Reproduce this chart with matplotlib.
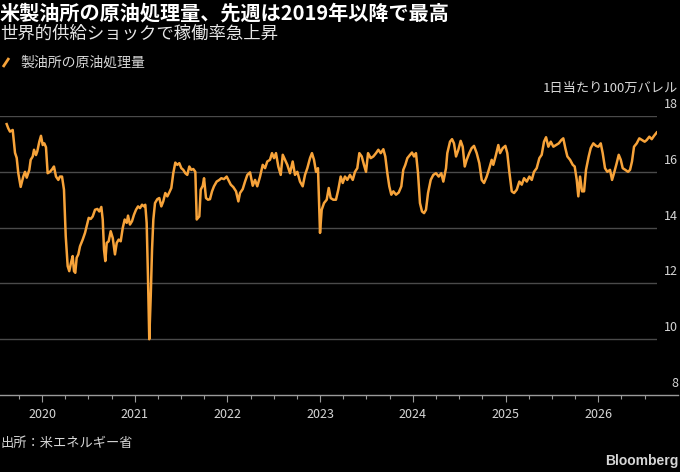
import numpy as np
import matplotlib
matplotlib.use('Agg')
import matplotlib.pyplot as plt
from matplotlib.ticker import MultipleLocator
from matplotlib.lines import Line2D

plt.rcParams['font.family'] = ['Noto Sans CJK JP', 'DejaVu Sans']

# weekly refinery crude runs, million barrels per day
t = [2019.619, 2019.636, 2019.655, 2019.684, 2019.709, 2019.727, 2019.744, 2019.770, 2019.798, 2019.817,
     2019.835, 2019.863, 2019.878, 2019.900, 2019.914, 2019.935, 2019.949, 2019.971, 2019.989, 2020.008,
     2020.025, 2020.043, 2020.061, 2020.086, 2020.111, 2020.129, 2020.151, 2020.176, 2020.194, 2020.216,
     2020.237, 2020.256, 2020.277, 2020.294, 2020.313, 2020.331, 2020.345, 2020.359, 2020.374, 2020.392,
     2020.410, 2020.439, 2020.464, 2020.482, 2020.504, 2020.525, 2020.547, 2020.572, 2020.597, 2020.618,
     2020.640, 2020.655, 2020.669, 2020.683, 2020.698, 2020.719, 2020.741, 2020.763, 2020.787, 2020.806,
     2020.827, 2020.849, 2020.871, 2020.892, 2020.914, 2020.928, 2020.949, 2020.971, 2020.992, 2021.014,
     2021.036, 2021.057, 2021.079, 2021.100, 2021.114, 2021.129, 2021.143, 2021.157, 2021.173, 2021.187,
     2021.201, 2021.219, 2021.244, 2021.265, 2021.287, 2021.308, 2021.330, 2021.352, 2021.373, 2021.395,
     2021.416, 2021.438, 2021.459, 2021.481, 2021.503, 2021.524, 2021.546, 2021.567, 2021.589, 2021.610,
     2021.632, 2021.654, 2021.669, 2021.683, 2021.697, 2021.712, 2021.734, 2021.748, 2021.769, 2021.791,
     2021.812, 2021.834, 2021.855, 2021.884, 2021.913, 2021.934, 2021.963, 2021.992, 2022.010, 2022.036,
     2022.064, 2022.093, 2022.118, 2022.136, 2022.165, 2022.190, 2022.215, 2022.244, 2022.273, 2022.298,
     2022.322, 2022.352, 2022.381, 2022.406, 2022.430, 2022.459, 2022.481, 2022.503, 2022.524, 2022.549,
     2022.575, 2022.597, 2022.621, 2022.646, 2022.675, 2022.704, 2022.729, 2022.754, 2022.783, 2022.812,
     2022.837, 2022.862, 2022.891, 2022.912, 2022.934, 2022.956, 2022.977, 2022.999, 2023.017, 2023.042,
     2023.071, 2023.093, 2023.114, 2023.142, 2023.171, 2023.196, 2023.222, 2023.244, 2023.268, 2023.293,
     2023.322, 2023.352, 2023.376, 2023.401, 2023.423, 2023.449, 2023.473, 2023.495, 2023.517, 2023.546,
     2023.574, 2023.603, 2023.628, 2023.654, 2023.682, 2023.703, 2023.725, 2023.746, 2023.768, 2023.790,
     2023.819, 2023.848, 2023.876, 2023.897, 2023.919, 2023.941, 2023.970, 2023.991, 2024.013, 2024.034,
     2024.056, 2024.077, 2024.099, 2024.121, 2024.142, 2024.164, 2024.193, 2024.221, 2024.250, 2024.279,
     2024.307, 2024.329, 2024.358, 2024.372, 2024.401, 2024.423, 2024.444, 2024.466, 2024.491, 2024.516,
     2024.538, 2024.560, 2024.581, 2024.609, 2024.635, 2024.660, 2024.689, 2024.717, 2024.743, 2024.768,
     2024.797, 2024.825, 2024.851, 2024.868, 2024.897, 2024.922, 2024.941, 2024.970, 2024.998, 2025.019,
     2025.041, 2025.067, 2025.092, 2025.121, 2025.149, 2025.175, 2025.200, 2025.229, 2025.257, 2025.283,
     2025.307, 2025.336, 2025.365, 2025.390, 2025.415, 2025.437, 2025.462, 2025.488, 2025.516, 2025.545,
     2025.574, 2025.602, 2025.623, 2025.645, 2025.667, 2025.696, 2025.725, 2025.746, 2025.768, 2025.785,
     2025.804, 2025.825, 2025.847, 2025.868, 2025.897, 2025.919, 2025.947, 2025.976, 2026.001, 2026.027,
     2026.048, 2026.073, 2026.098, 2026.127, 2026.149, 2026.170, 2026.199, 2026.221, 2026.243, 2026.264,
     2026.292, 2026.321, 2026.343, 2026.364, 2026.386, 2026.415, 2026.443, 2026.472, 2026.501, 2026.523,
     2026.551, 2026.577, 2026.602, 2026.631]
runs = [17.71, 17.56, 17.44, 17.50, 16.68, 16.50, 15.96, 15.46, 15.83, 16.00,
        15.79, 16.07, 16.43, 16.55, 16.79, 16.60, 16.73, 17.08, 17.29, 16.96,
        17.02, 16.88, 15.95, 16.00, 16.10, 16.19, 15.83, 15.71, 15.83, 15.83,
        15.36, 13.69, 12.62, 12.44, 12.74, 12.98, 12.44, 12.38, 12.92, 13.04,
        13.33, 13.57, 13.81, 14.05, 14.35, 14.31, 14.40, 14.64, 14.67, 14.58,
        14.74, 14.29, 13.21, 12.80, 13.45, 13.51, 13.87, 13.63, 13.04, 13.45,
        13.57, 13.51, 13.99, 14.29, 14.17, 14.43, 14.11, 14.23, 14.46, 14.64,
        14.76, 14.70, 14.82, 14.76, 14.82, 14.17, 12.26, 10.00, 11.55, 13.21,
        14.29, 14.88, 15.02, 15.06, 14.76, 14.94, 15.24, 15.12, 15.26, 15.42,
        15.95, 16.33, 16.25, 16.31, 16.13, 16.07, 15.95, 15.89, 16.19, 16.07,
        16.10, 16.00, 14.29, 14.35, 14.40, 15.36, 15.50, 15.77, 15.06, 15.00,
        15.02, 15.30, 15.48, 15.65, 15.71, 15.77, 15.74, 15.83, 15.71, 15.54,
        15.45, 15.30, 14.94, 15.24, 15.38, 15.65, 15.89, 15.98, 15.50, 15.71,
        15.48, 15.83, 16.25, 16.13, 16.37, 16.43, 16.67, 16.49, 16.67, 16.19,
        15.89, 16.61, 16.43, 16.25, 15.95, 16.37, 15.89, 16.00, 15.65, 15.48,
        15.89, 16.13, 16.49, 16.67, 16.43, 16.00, 16.13, 13.81, 14.64, 14.88,
        15.00, 15.42, 15.06, 15.00, 15.00, 15.36, 15.83, 15.60, 15.83, 15.71,
        15.89, 15.71, 16.00, 16.13, 16.67, 16.55, 16.25, 16.00, 16.67, 16.49,
        16.55, 16.67, 16.79, 16.67, 16.81, 16.55, 15.95, 15.48, 15.18, 15.30,
        15.18, 15.26, 15.48, 16.07, 16.25, 16.49, 16.61, 16.69, 16.55, 16.67,
        15.95, 14.88, 14.58, 14.52, 14.64, 15.24, 15.71, 15.89, 15.95, 15.83,
        15.95, 15.65, 16.13, 16.67, 17.08, 17.17, 17.02, 16.55, 16.79, 17.11,
        16.90, 16.19, 16.43, 16.67, 16.85, 16.93, 16.67, 16.31, 15.71, 15.60,
        15.83, 16.13, 16.43, 16.25, 16.61, 16.96, 16.67, 16.85, 16.93, 16.67,
        16.00, 15.30, 15.24, 15.36, 15.65, 15.54, 15.77, 15.65, 15.83, 15.71,
        16.00, 16.13, 16.49, 16.61, 17.08, 17.24, 16.90, 17.08, 16.90, 16.96,
        17.02, 17.14, 17.20, 16.85, 16.55, 16.43, 16.25, 16.19, 15.71, 15.12,
        15.83, 15.30, 15.30, 16.07, 16.55, 16.85, 17.02, 16.93, 16.90, 17.02,
        16.67, 16.13, 16.00, 16.07, 15.71, 15.95, 16.31, 16.61, 16.43, 16.13,
        16.07, 16.00, 16.07, 16.37, 16.90, 17.02, 17.20, 17.14, 17.08, 17.14,
        17.26, 17.17, 17.29, 17.41]

years = [2020, 2021, 2022, 2023, 2024, 2025, 2026]
yticks = [8, 10, 12, 14, 16, 18]

orange = '#F7A33A'
grid_c = '#4a4a4a'
txt_c = '#d6d6d6'

fig = plt.figure(figsize=(6.8, 4.72), dpi=100, facecolor='black')
ax = fig.add_axes([0.0, 0.1631, 0.9662, 0.5911], facecolor='black')

ax.plot(t, runs, color=orange, linewidth=1.8, solid_joinstyle='round', zorder=3)

ax.set_xlim(2019.547, 2026.634)
ax.set_ylim(8, 18)

for v in yticks[1:]:
    ax.axhline(v, color=grid_c, linewidth=1.0, zorder=1)
for v in yticks:
    ax.text(678 / 657, v + 0.18, str(v), transform=ax.get_yaxis_transform(),
            ha='right', va='bottom', fontsize=9, color=txt_c)

# bottom axis line runs past the plot to the right edge
ax.add_line(Line2D([0, 678 / 657], [0, 0], transform=ax.transAxes, color='#9a9a9a',
                   linewidth=1.0, clip_on=False, zorder=2))

for s in ax.spines.values():
    s.set_visible(False)
ax.set_yticks([])
ax.set_xticks(years)
ax.set_xticklabels([str(y) for y in years])
ax.xaxis.set_minor_locator(MultipleLocator(0.25))
ax.tick_params(axis='x', which='major', length=5, width=0.8, color='#9a9a9a',
               labelsize=9, labelcolor=txt_c, pad=4)
ax.tick_params(axis='x', which='minor', length=3, width=0.8, color='#9a9a9a')

fig.text(0.0, 1 - 13 / 472, '米製油所の原油処理量、先週は2019年以降で最高', ha='left', va='center',
         fontsize=14.5, fontweight='bold', color='white')
fig.text(0.0, 1 - 34 / 472, '世界的供給ショックで稼働率急上昇', ha='left', va='center',
         fontsize=12.5, color='#e6e6e6')

# legend: short slanted swatch + label
fig.add_artist(Line2D([3 / 680, 9 / 680], [1 - 67 / 472, 1 - 58 / 472], color=orange,
                      linewidth=2, solid_capstyle='butt'))
fig.text(20 / 680, 1 - 63 / 472, '製油所の原油処理量', ha='left', va='center',
         fontsize=10, color=txt_c)

fig.text(678 / 680, 1 - 88 / 472, '1日当たり100万バレル', ha='right', va='center',
         fontsize=9.5, color=txt_c)

fig.text(0.0, 1 - 443 / 472, '出所：米エネルギー省', ha='left', va='center',
         fontsize=9.5, color=txt_c)
fig.text(678 / 680, 1 - 461 / 472, 'Bloomberg', ha='right', va='center',
         fontsize=10, fontweight='bold', color=txt_c, family='Liberation Sans')

fig.savefig('out.png', dpi=100, facecolor='black')
